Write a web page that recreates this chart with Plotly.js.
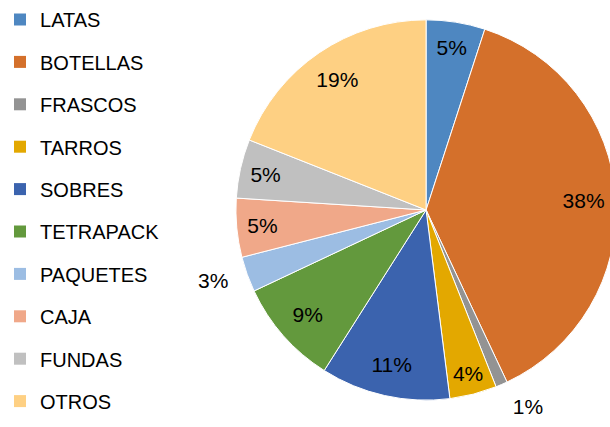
<!DOCTYPE html>
<html>
<head>
<meta charset="utf-8">
<script src="https://cdn.plot.ly/plotly-3.0.1.min.js"></script>
<style>
html, body { margin: 0; padding: 0; overflow: hidden; width: 610px; height: 427px; background: #fff; }
#chart { width: 660px; height: 427px; }
</style>
</head>
<body>
<div id="chart"></div>
<script>
const categories = ['LATAS', 'BOTELLAS', 'FRASCOS', 'TARROS', 'SOBRES', 'TETRAPACK', 'PAQUETES', 'CAJA', 'FUNDAS', 'OTROS'];
const values = [5, 38, 1, 4, 11, 9, 3, 5, 5, 19];
const colors = ['#4E87C1', '#D4702B', '#939393', '#E3A800', '#3B63AE', '#63993D', '#9CBDE3', '#F0A889', '#C0C0C0', '#FED083'];
const outsideLabel = [false, false, true, false, false, false, true, false, false, false];

const FONT = 'Liberation Sans, Arial, sans-serif';
const W = 660, H = 427;
const CX = 425, CY = 210, R = 191, R_OUT = 205;

function dom(r) {
  const cyb = H - CY;
  return { x: [(CX - r) / W, (CX + r) / W], y: [(cyb - r) / H, (cyb + r) / H] };
}
const transparent = categories.map(() => 'rgba(0,0,0,0)');
const txtFont = { family: FONT, size: 21, color: '#000000' };
const legFont = { family: FONT, size: 20, color: '#000000' };

// base coloured pie
const pie = {
  type: 'pie',
  labels: categories,
  values: values,
  sort: false,
  direction: 'clockwise',
  rotation: 0,
  marker: { colors: colors, line: { color: '#ffffff', width: 1 } },
  textinfo: 'none',
  showlegend: false,
  hoverinfo: 'label+percent',
  domain: dom(R)
};

// ring layer carrying the inside percentage labels
const insideLabels = {
  type: 'pie',
  labels: categories,
  values: values,
  sort: false,
  direction: 'clockwise',
  rotation: 0,
  hole: 0.66,
  marker: { colors: transparent, line: { width: 0 } },
  textinfo: 'percent',
  textposition: outsideLabel.map(o => o ? 'none' : 'inside'),
  insidetextorientation: 'horizontal',
  textfont: txtFont,
  insidetextfont: txtFont,
  showlegend: false,
  hoverinfo: 'skip',
  domain: dom(R)
};

// layer carrying the outside percentage labels
const outsideLabels = {
  type: 'pie',
  labels: categories,
  values: values,
  sort: false,
  direction: 'clockwise',
  rotation: 0,
  marker: { colors: transparent, line: { width: 0 } },
  textinfo: 'percent',
  textposition: outsideLabel.map(o => o ? 'outside' : 'none'),
  textfont: txtFont,
  outsidetextfont: txtFont,
  showlegend: false,
  hoverinfo: 'skip',
  domain: dom(R_OUT)
};

const legendTraces = categories.map((c, i) => ({
  type: 'scatter',
  mode: 'markers',
  x: [null],
  y: [null],
  name: c,
  legendgroup: c,
  showlegend: true,
  marker: { symbol: 'square', size: 12, color: colors[i], line: { width: 0 } },
  hoverinfo: 'skip'
}));

const layout = {
  width: W,
  height: H,
  margin: { l: 0, r: 0, t: 0, b: 0 },
  paper_bgcolor: '#ffffff',
  plot_bgcolor: '#ffffff',
  font: legFont,
  xaxis: { visible: false },
  yaxis: { visible: false },
  showlegend: true,
  legend: {
    x: -3 / W, y: 1, xanchor: 'left', yanchor: 'top',
    traceorder: 'grouped',
    tracegroupgap: 13.4,
    font: legFont,
    bgcolor: 'rgba(0,0,0,0)',
    borderwidth: 0
  }
};

Plotly.newPlot('chart', [pie, insideLabels, outsideLabels].concat(legendTraces), layout, { displayModeBar: false, staticPlot: true });
</script>
</body>
</html>
